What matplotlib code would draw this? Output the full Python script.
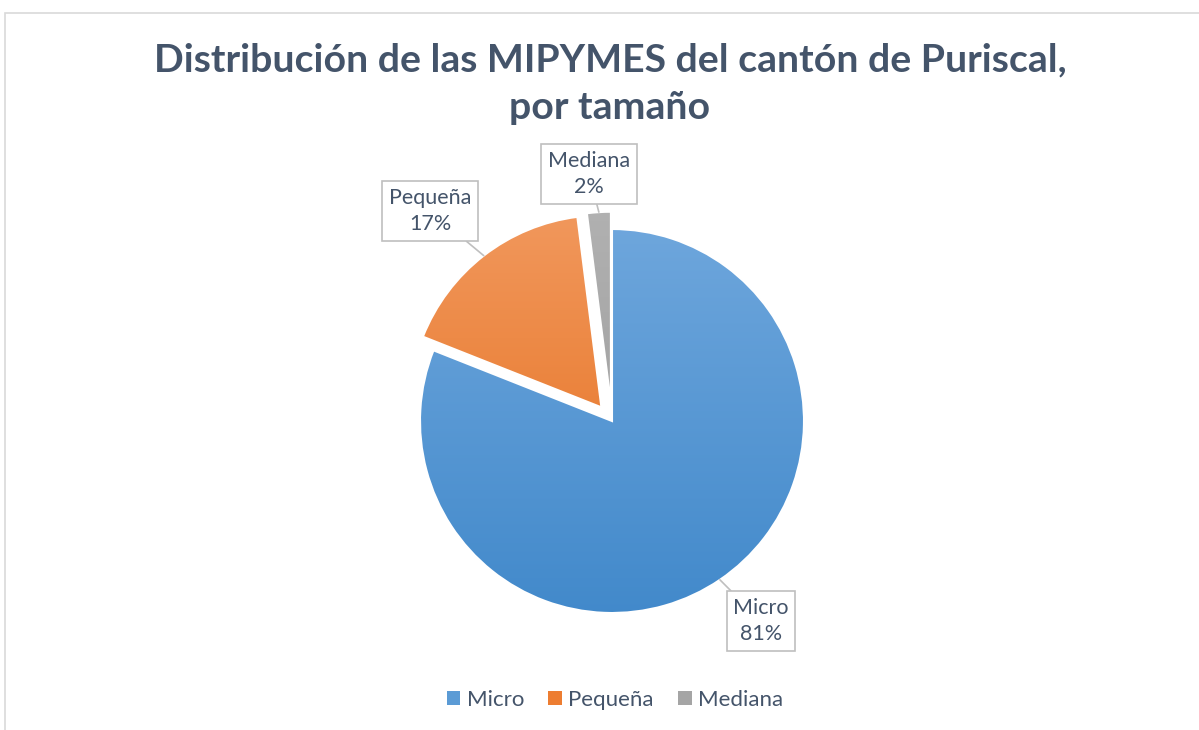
import numpy as np
import matplotlib
matplotlib.use("Agg")
import matplotlib.pyplot as plt
from matplotlib.colors import LinearSegmentedColormap
from matplotlib.patches import Patch, Rectangle

categories = ["Micro", "Pequeña", "Mediana"]
values = [81, 17, 2]
title = "Distribución de las MIPYMES del cantón de Puriscal,\npor tamaño"

top_colors = ["#72A9DE", "#F29A60", "#B2B2B2"]
bottom_colors = ["#4088CA", "#E36A15", "#959595"]
legend_colors = ["#5B9BD5", "#ED7D31", "#A5A5A5"]

W, H = 1199, 730
fig = plt.figure(figsize=(W / 100, H / 100), dpi=100)
plt.rcParams['font.family'] = ['Lato', 'DejaVu Sans']

# frame border
fig.patches.append(Rectangle((5 / W, -0.1), 1.2, (H - 13) / H + 0.1, transform=fig.transFigure,
                             fill=False, edgecolor="#D9D9D9", linewidth=1.2))

cx, cy, R = 612, 421, 192
ax = fig.add_axes([0, 0, 1, 1])
ax.axis("off")

wedges, _ = ax.pie(values, startangle=90, counterclock=False, explode=[0, 0.09, 0.09],
                   radius=1, wedgeprops=dict(edgecolor="white", linewidth=1.5))
ax.set_aspect("auto")

grad = np.linspace(0, 1, 256).reshape(-1, 1)
for w, tc, bc in zip(wedges, top_colors, bottom_colors):
    cmap = LinearSegmentedColormap.from_list("g", [tc, bc])
    im = ax.imshow(grad, extent=(-1.2, 1.2, -1.1, 1.2), origin="upper", cmap=cmap,
                   aspect="auto", zorder=w.get_zorder() + 0.1, interpolation="bilinear")
    im.set_clip_path(w)
    w.set_facecolor("none")
    w.set_zorder(w.get_zorder() + 0.2)
ax.set_xlim(-cx / R, (W - cx) / R)
ax.set_ylim(-(H - cy) / R, cy / R)

# labels with leader lines
label_px = [(761, 621), (430, 211), (589, 174)]
tot = sum(values)
ang = 90.0
for w, cat, v, (lx, ly) in zip(wedges, categories, values, label_px):
    span = 360.0 * v / tot
    mid = np.deg2rad(ang - span / 2)
    ang -= span
    c = w.center
    r = w.r
    px, py = c[0] + r * np.cos(mid), c[1] + r * np.sin(mid)
    tx, ty = (lx - cx) / R, (cy - ly) / R
    ax.annotate(f"{cat}\n{round(100 * v / tot)}%", xy=(px, py), xytext=(tx, ty),
                ha="center", va="center", fontsize=15.5, color="#44546A", linespacing=1.4,
                bbox=dict(boxstyle="square,pad=0.3", fc="white", ec="#BFBFBF", lw=1.2),
                arrowprops=dict(arrowstyle="-", color="#BFBFBF", lw=1.2, shrinkA=0, shrinkB=0),
                zorder=10)

fig.text(610 / W, 1 - 42 / H, title, ha="center", va="top", fontsize=28.3, fontweight="bold",
         color="#44546A", linespacing=1.45)

handles = [Patch(facecolor=c, edgecolor="none") for c in legend_colors]
fig.legend(handles, categories, loc="center", bbox_to_anchor=(615 / W, 1 - 700 / H), ncol=3,
           frameon=False, fontsize=16, labelcolor="#44546A", handlelength=0.6, handleheight=0.6,
           handletextpad=0.3, columnspacing=1.1)

fig.savefig("out.png", dpi=100)
